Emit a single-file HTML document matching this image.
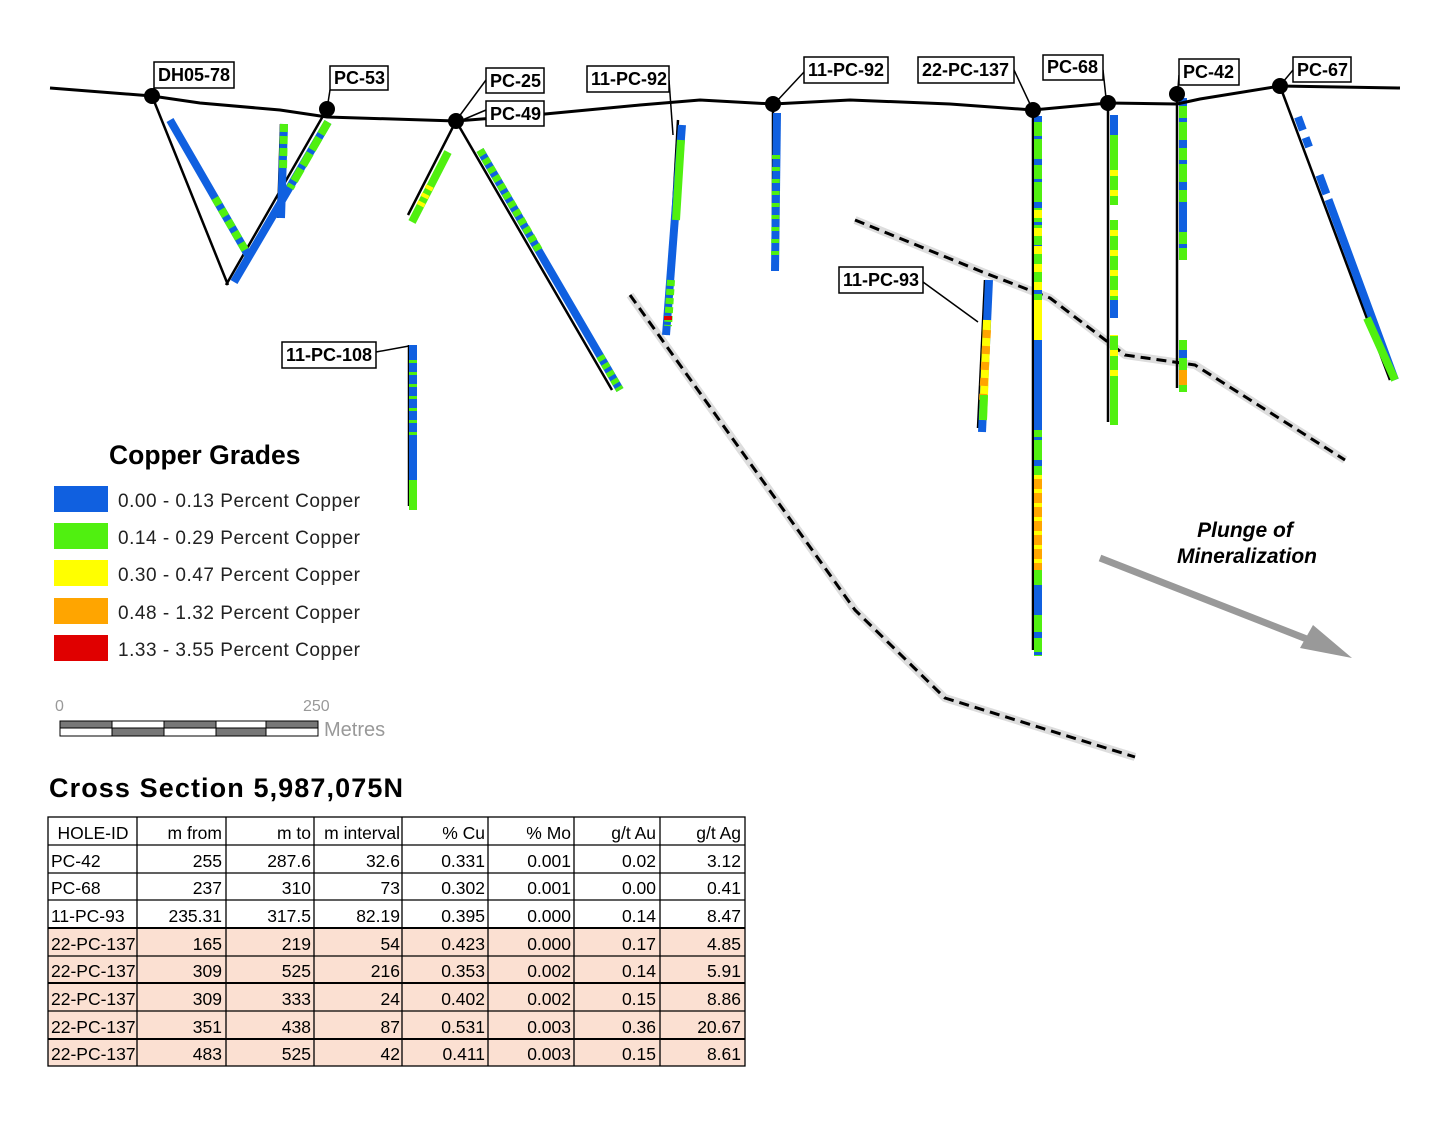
<!DOCTYPE html>
<html><head><meta charset="utf-8"><style>
html,body{margin:0;padding:0;background:#fff;}
svg{display:block;}
.lb{font-family:"Liberation Sans Narrow","Liberation Sans",sans-serif;font-weight:bold;font-size:18px;}
.tb{font-family:"Liberation Sans Narrow","Liberation Sans",sans-serif;font-size:17.5px;}
</style></head><body>
<svg width="1450" height="1121" viewBox="0 0 1450 1121" xmlns="http://www.w3.org/2000/svg">
<g fill="none" stroke-linejoin="round">
<polyline points="855,220 985,273 1050,298 1125,355 1195,365 1345,460" stroke="#ddd" stroke-width="8"/>
<polyline points="855,220 985,273 1050,298 1125,355 1195,365 1345,460" stroke="#000" stroke-width="3" stroke-dasharray="10,6"/>
<polyline points="630,295 855,610 945,698 1135,757" stroke="#ddd" stroke-width="8"/>
<polyline points="630,295 855,610 945,698 1135,757" stroke="#000" stroke-width="3" stroke-dasharray="10,6"/>
</g>
<g stroke="#000" stroke-width="2.5" fill="none">
<line x1="152" y1="96" x2="228" y2="285"/>
<line x1="327" y1="109" x2="226" y2="285"/>
<line x1="281" y1="124" x2="278" y2="218"/>
<line x1="456" y1="121" x2="408" y2="215"/>
<line x1="456" y1="121" x2="612" y2="390"/>
<line x1="678" y1="120" x2="666" y2="335"/>
<line x1="773" y1="104" x2="773" y2="268"/>
<line x1="1033" y1="110" x2="1033" y2="650"/>
<line x1="1108" y1="103" x2="1108" y2="422"/>
<line x1="1177" y1="94" x2="1177" y2="388"/>
<line x1="1280" y1="86" x2="1390" y2="380"/>
<line x1="985" y1="280" x2="978" y2="428"/>
<line x1="409" y1="345" x2="409" y2="506"/>
</g>
<g stroke-width="8" fill="none">
<line x1="170" y1="120" x2="248" y2="255" stroke="#1060e0"/>
<line x1="215" y1="198" x2="248" y2="255" stroke="#50f010" stroke-dasharray="8,5"/>
<line x1="328" y1="122" x2="234" y2="282" stroke="#1060e0"/>
<line x1="328" y1="122" x2="290" y2="188" stroke="#50f010" stroke-dasharray="14,4"/>
<line x1="284" y1="124" x2="281" y2="218" stroke="#1060e0"/>
<line x1="284" y1="124" x2="283" y2="170" stroke="#50f010" stroke-dasharray="8,4"/>
<line x1="448" y1="152" x2="412" y2="222" stroke="#50f010"/>
<line x1="430" y1="186" x2="420" y2="206" stroke="#ffff00" stroke-dasharray="4,5"/>
<line x1="480" y1="150" x2="620" y2="390" stroke="#1060e0"/>
<line x1="480" y1="150" x2="540" y2="252" stroke="#50f010" stroke-dasharray="6,4"/>
<line x1="600" y1="356" x2="620" y2="390" stroke="#50f010" stroke-dasharray="5,4"/>
<line x1="682" y1="125" x2="666" y2="335" stroke="#1060e0"/>
<line x1="681" y1="140" x2="676" y2="220" stroke="#50f010"/>
<line x1="671" y1="280" x2="668" y2="326" stroke="#50f010" stroke-dasharray="6,3"/>
<line x1="668" y1="316" x2="668" y2="320" stroke="#e00000"/>
<line x1="777" y1="113" x2="775" y2="271" stroke="#1060e0"/>
<line x1="776" y1="155" x2="775" y2="262" stroke="#50f010" stroke-dasharray="4,8"/>
<line x1="1038" y1="116" x2="1038" y2="656" stroke="#50f010"/>
<line x1="1038" y1="116" x2="1038" y2="656" stroke="#1060e0" stroke-dasharray="6,14,3,20"/>
<line x1="1038" y1="210" x2="1038" y2="330" stroke="#ffff00" stroke-dasharray="8,10"/>
<line x1="1038" y1="300" x2="1038" y2="340" stroke="#ffff00"/>
<line x1="1038" y1="340" x2="1038" y2="430" stroke="#1060e0"/>
<line x1="1038" y1="475" x2="1038" y2="570" stroke="#ffa500"/>
<line x1="1038" y1="475" x2="1038" y2="570" stroke="#ffff00" stroke-dasharray="4,10"/>
<line x1="1038" y1="585" x2="1038" y2="615" stroke="#1060e0"/>
<line x1="1114" y1="115" x2="1114" y2="425" stroke="#50f010"/>
<line x1="1114" y1="115" x2="1114" y2="135" stroke="#1060e0"/>
<line x1="1114" y1="170" x2="1114" y2="390" stroke="#ffff00" stroke-dasharray="6,14"/>
<line x1="1114" y1="205" x2="1114" y2="220" stroke="#fff"/>
<line x1="1114" y1="300" x2="1114" y2="318" stroke="#1060e0"/>
<line x1="1114" y1="318" x2="1114" y2="335" stroke="#fff"/>
<line x1="1183" y1="98" x2="1183" y2="260" stroke="#50f010"/>
<line x1="1183" y1="98" x2="1183" y2="260" stroke="#1060e0" stroke-dasharray="8,12,4,18"/>
<line x1="1183" y1="205" x2="1183" y2="228" stroke="#1060e0"/>
<line x1="1183" y1="340" x2="1183" y2="392" stroke="#50f010"/>
<line x1="1183" y1="350" x2="1183" y2="358" stroke="#1060e0"/>
<line x1="1183" y1="370" x2="1183" y2="385" stroke="#ffa500"/>
<line x1="1298" y1="117" x2="1395" y2="380" stroke="#1060e0" stroke-dasharray="14,8,10,30,20,6,200"/>
<line x1="1367" y1="318" x2="1395" y2="380" stroke="#50f010"/>
<line x1="989" y1="280" x2="982" y2="432" stroke="#1060e0"/>
<line x1="987" y1="320" x2="983" y2="420" stroke="#ffff00"/>
<line x1="987" y1="330" x2="983" y2="400" stroke="#ffa500" stroke-dasharray="8,8"/>
<line x1="984" y1="395" x2="983" y2="420" stroke="#50f010"/>
<line x1="413" y1="345" x2="413" y2="510" stroke="#1060e0"/>
<line x1="413" y1="360" x2="413" y2="440" stroke="#50f010" stroke-dasharray="3,9"/>
<line x1="413" y1="480" x2="413" y2="510" stroke="#50f010"/>
</g>
<polyline fill="none" stroke="#000" stroke-width="3" points="50,88 152,96 200,103 280,110 327,117 456,121 545,114 640,105 700,100 773,104 850,100 950,104 1033,110 1108,103 1177,104 1200,99 1280,86 1400,88"/>
<g fill="#000">
<circle cx="152" cy="96" r="8"/><circle cx="327" cy="109" r="8"/><circle cx="456" cy="121" r="8"/>
<circle cx="773" cy="104" r="8"/><circle cx="1033" cy="110" r="8"/><circle cx="1108" cy="103" r="8"/>
<circle cx="1177" cy="94" r="8"/><circle cx="1280" cy="86" r="8"/>
</g>
<g stroke="#000" stroke-width="1.5" fill="none">
<line x1="154" y1="88" x2="152" y2="96"/><line x1="330" y1="90" x2="327" y2="109"/>
<polyline points="486,80 458,118"/><polyline points="486,110 460,121"/>
<polyline points="669,80 673,135"/><polyline points="804,72 776,102"/>
<polyline points="1014,70 1030,104"/><polyline points="1103,70 1106,98"/>
<polyline points="1179,75 1178,88"/><polyline points="1293,70 1283,82"/>
<polyline points="923,282 978,322"/><polyline points="376,352 409,346"/>
</g>
<g fill="#fff" stroke="#000" stroke-width="1.5">
<rect x="154" y="62" width="80" height="26"/><rect x="330" y="66" width="58" height="24"/>
<rect x="486" y="68" width="58" height="25"/><rect x="486" y="101" width="58" height="25"/>
<rect x="587" y="66" width="82" height="26"/><rect x="804" y="57" width="84" height="26"/>
<rect x="918" y="57" width="96" height="26"/><rect x="1043" y="55" width="60" height="25"/>
<rect x="1179" y="59" width="60" height="26"/><rect x="1293" y="57" width="58" height="25"/>
<rect x="839" y="267" width="84" height="26"/><rect x="282" y="342" width="94" height="26"/>
</g>
<g class="lb">
<text x="158" y="81">DH05-78</text><text x="334" y="84">PC-53</text>
<text x="490" y="87">PC-25</text><text x="490" y="120">PC-49</text>
<text x="591" y="85">11-PC-92</text><text x="808" y="76">11-PC-92</text>
<text x="922" y="76">22-PC-137</text><text x="1047" y="73">PC-68</text>
<text x="1183" y="78">PC-42</text><text x="1297" y="76">PC-67</text>
<text x="843" y="286">11-PC-93</text><text x="286" y="361">11-PC-108</text>
</g>
<text x="1245" y="537" text-anchor="middle" font-family="Liberation Sans,sans-serif" font-weight="bold" font-style="italic" font-size="21">Plunge of</text>
<text x="1247" y="563" text-anchor="middle" font-family="Liberation Sans,sans-serif" font-weight="bold" font-style="italic" font-size="21">Mineralization</text>
<line x1="1100" y1="558" x2="1322" y2="645" stroke="#999" stroke-width="7"/>
<polygon points="1352,658 1300,648 1313,625" fill="#999"/>
<text x="109" y="464" font-family="Liberation Sans,sans-serif" font-weight="bold" font-size="26.5">Copper Grades</text>
<g font-family="Liberation Sans,sans-serif" font-size="19" fill="#222" textLength="242">
<rect x="54" y="486" width="54" height="26" fill="#1060e0"/><text x="118" y="507" textLength="242">0.00 - 0.13 Percent Copper</text>
<rect x="54" y="523" width="54" height="26" fill="#50f010"/><text x="118" y="544" textLength="242">0.14 - 0.29 Percent Copper</text>
<rect x="54" y="560" width="54" height="26" fill="#ffff00"/><text x="118" y="581" textLength="242">0.30 - 0.47 Percent Copper</text>
<rect x="54" y="598" width="54" height="26" fill="#ffa500"/><text x="118" y="619" textLength="242">0.48 - 1.32 Percent Copper</text>
<rect x="54" y="635" width="54" height="26" fill="#e00000"/><text x="118" y="656" textLength="242">1.33 - 3.55 Percent Copper</text>
</g>
<g font-family="Liberation Sans,sans-serif" fill="#999">
<text x="55" y="711" font-size="16">0</text><text x="303" y="711" font-size="16">250</text>
<text x="324" y="736" font-size="20">Metres</text>
</g>
<g stroke="#000" stroke-width="1">
<rect x="60" y="721" width="258" height="15" fill="#fff"/>
<rect x="60" y="721" width="52" height="7" fill="#777"/><rect x="164" y="721" width="52" height="7" fill="#777"/><rect x="266" y="721" width="52" height="7" fill="#777"/>
<rect x="112" y="728" width="52" height="8" fill="#777"/><rect x="216" y="728" width="50" height="8" fill="#777"/>
</g>
<text x="49" y="797" font-family="Liberation Sans,sans-serif" font-weight="bold" font-size="27" textLength="354">Cross Section 5,987,075N</text>
<rect x="48" y="928" width="697" height="138" fill="#fbe0d2"/>
<g stroke="#000" stroke-width="1.3">
<rect x="48" y="817" width="697" height="249" fill="none"/>
<line x1="137" y1="817" x2="137" y2="1066"/><line x1="226" y1="817" x2="226" y2="1066"/>
<line x1="314" y1="817" x2="314" y2="1066"/><line x1="402" y1="817" x2="402" y2="1066"/>
<line x1="488" y1="817" x2="488" y2="1066"/><line x1="574" y1="817" x2="574" y2="1066"/>
<line x1="660" y1="817" x2="660" y2="1066"/>
<line x1="48" y1="845" x2="745" y2="845"/><line x1="48" y1="873" x2="745" y2="873"/>
<line x1="48" y1="900" x2="745" y2="900"/><line x1="48" y1="928" x2="745" y2="928" stroke-width="2"/>
<line x1="48" y1="956" x2="745" y2="956"/><line x1="48" y1="983" x2="745" y2="983" stroke-width="2"/>
<line x1="48" y1="1011" x2="745" y2="1011"/><line x1="48" y1="1039" x2="745" y2="1039" stroke-width="2"/>
</g>
<g class="tb" text-anchor="end">
<text x="93" y="839" text-anchor="middle">HOLE-ID</text>
<text x="222" y="839">m from</text><text x="311" y="839">m to</text><text x="400" y="839">m interval</text>
<text x="485" y="839">% Cu</text><text x="571" y="839">% Mo</text><text x="656" y="839">g/t Au</text><text x="741" y="839">g/t Ag</text>
</g>
<g class="tb">
<text x="51" y="867">PC-42</text><text x="51" y="894">PC-68</text><text x="51" y="922">11-PC-93</text>
<text x="51" y="950">22-PC-137</text><text x="51" y="977">22-PC-137</text><text x="51" y="1005">22-PC-137</text>
<text x="51" y="1033">22-PC-137</text><text x="51" y="1060">22-PC-137</text>
</g>
<g class="tb" text-anchor="end">
<text x="222" y="867">255</text><text x="311" y="867">287.6</text><text x="400" y="867">32.6</text><text x="485" y="867">0.331</text><text x="571" y="867">0.001</text><text x="656" y="867">0.02</text><text x="741" y="867">3.12</text>
<text x="222" y="894">237</text><text x="311" y="894">310</text><text x="400" y="894">73</text><text x="485" y="894">0.302</text><text x="571" y="894">0.001</text><text x="656" y="894">0.00</text><text x="741" y="894">0.41</text>
<text x="222" y="922">235.31</text><text x="311" y="922">317.5</text><text x="400" y="922">82.19</text><text x="485" y="922">0.395</text><text x="571" y="922">0.000</text><text x="656" y="922">0.14</text><text x="741" y="922">8.47</text>
<text x="222" y="950">165</text><text x="311" y="950">219</text><text x="400" y="950">54</text><text x="485" y="950">0.423</text><text x="571" y="950">0.000</text><text x="656" y="950">0.17</text><text x="741" y="950">4.85</text>
<text x="222" y="977">309</text><text x="311" y="977">525</text><text x="400" y="977">216</text><text x="485" y="977">0.353</text><text x="571" y="977">0.002</text><text x="656" y="977">0.14</text><text x="741" y="977">5.91</text>
<text x="222" y="1005">309</text><text x="311" y="1005">333</text><text x="400" y="1005">24</text><text x="485" y="1005">0.402</text><text x="571" y="1005">0.002</text><text x="656" y="1005">0.15</text><text x="741" y="1005">8.86</text>
<text x="222" y="1033">351</text><text x="311" y="1033">438</text><text x="400" y="1033">87</text><text x="485" y="1033">0.531</text><text x="571" y="1033">0.003</text><text x="656" y="1033">0.36</text><text x="741" y="1033">20.67</text>
<text x="222" y="1060">483</text><text x="311" y="1060">525</text><text x="400" y="1060">42</text><text x="485" y="1060">0.411</text><text x="571" y="1060">0.003</text><text x="656" y="1060">0.15</text><text x="741" y="1060">8.61</text>
</g>
</svg>
</body></html>
